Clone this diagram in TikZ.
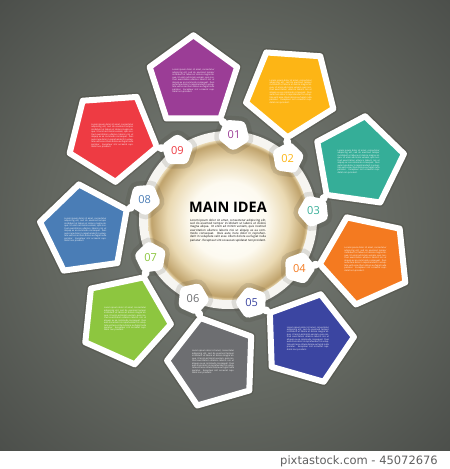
\documentclass[tikz,border=0pt]{standalone}
\usepackage{fontspec}
\setmainfont{Open Sans}
\newfontfamily\footfont{DejaVu Sans}
\usetikzlibrary{calc,positioning,shapes.geometric}

\definecolor{plum}{HTML}{9B3D96}
\definecolor{amber}{HTML}{FDB515}
\definecolor{teal}{HTML}{35AE98}
\definecolor{tangerine}{HTML}{F47A20}
\definecolor{indigo}{HTML}{3B45A1}
\definecolor{slate}{HTML}{6D6E71}
\definecolor{lime}{HTML}{8DC63F}
\definecolor{steel}{HTML}{4A7DB6}
\definecolor{scarlet}{HTML}{EE3B43}
\definecolor{ringwhite}{HTML}{F6F5F1}
\definecolor{bgmid}{HTML}{7A7F79}
\definecolor{bgedge}{HTML}{62665F}
\definecolor{bgrim}{HTML}{4B4E4A}
\definecolor{creme}{HTML}{FDFAF0}
\definecolor{sand}{HTML}{EAD9B2}
\definecolor{khaki}{HTML}{BFA26B}
\definecolor{umber}{HTML}{3A352A}

\pgfdeclareradialshading{bgglow}{\pgfpoint{0bp}{0bp}}%
  {color(0bp)=(bgmid); color(20bp)=(bgedge); color(36bp)=(bgrim); color(50bp)=(bgrim)}
\pgfdeclareradialshading{coreglow}{\pgfpoint{0bp}{0bp}}%
  {color(0bp)=(white); color(12bp)=(creme); color(19bp)=(sand); color(24bp)=(khaki); color(25bp)=(sand); color(50bp)=(sand)}

\newcommand{\filler}{Lorem ipsum dolor sit amet, consectetur adipiscing elit, sed do
  eiusmod tempor incididunt ut labore et dolore magna aliqua. Ut enim ad minim
  veniam, quis nostrud exercitation ullamco laboris nisi ut aliquip ex ea commodo
  consequat. Duis aute irure dolor in reprehenderit in voluptate velit esse cillum
  dolore eu fugiat nulla pariatur. Excepteur sint occaecat cupidatat non proident.}

\begin{document}
\begin{tikzpicture}[
    x=1pt, y=1pt,
    halo/.style={preaction={draw=umber, draw opacity=#1, line width=9}},
    halo/.default=.22,
    petal/.style={regular polygon, regular polygon sides=5, minimum size=92,
      inner sep=0pt, draw=white, line width=6, line join=round, halo},
    badge/.style={regular polygon, regular polygon sides=5, minimum size=34,
      inner sep=0pt, fill=white, rounded corners=4, halo=.13,
      font=\fontsize{11}{11}\selectfont},
    bridge/.style={draw=white, line width=7.5, line cap=round},
    blurb/.style={text=white, align=justify, text width=42, inner sep=0pt,
      font=\fontsize{2.2}{2.45}\selectfont}
  ]

  \useasboundingbox (0,0) rectangle (450,469);
  \fill[shading=bgglow] (0,18) rectangle (450,469);
  \fill[white] (0,0) rectangle (450,18);

  % the main idea in the middle
  \coordinate (centre) at (228,249);
  \node (ring) [circle, minimum size=178, fill=ringwhite,
        preaction={draw=umber, draw opacity=.15, line width=5}] at (centre) {};
  \node (core) [circle, minimum size=160, shading=coreglow] at (centre) {};
  \node (title) at ($(centre)+(0,13)$)
        {\fontsize{14.5}{14.5}\selectfont\bfseries MAIN IDEA};
  \node (body) [below=3pt of title, align=justify, text width=76, inner sep=0pt,
        font=\fontsize{2.9}{3.35}\selectfont] {\filler};

  % pentagons round the circle
  \node (p1) [petal, fill=plum,      shape border rotate=0]    at ($(centre)+(104:143)$) {};
  \node (p2) [petal, fill=amber,     shape border rotate=-40]  at ($(centre)+(64:143)$)  {};
  \node (p3) [petal, fill=teal,      shape border rotate=-80]  at ($(centre)+(24:143)$)  {};
  \node (p4) [petal, fill=tangerine, shape border rotate=-120] at ($(centre)+(-16:143)$) {};
  \node (p5) [petal, fill=indigo,    shape border rotate=-160] at ($(centre)+(-56:143)$) {};
  \node (p6) [petal, fill=slate,     shape border rotate=160]  at ($(centre)+(-96:143)$) {};
  \node (p7) [petal, fill=lime,      shape border rotate=120]  at ($(centre)+(-136:143)$) {};
  \node (p8) [petal, fill=steel,     shape border rotate=80]   at ($(centre)+(-176:143)$) {};
  \node (p9) [petal, fill=scarlet,   shape border rotate=40]   at ($(centre)+(144:143)$) {};

  % small print in each pentagon
  \node (t1) [blurb] at (p1) {\filler};
  \node (t2) [blurb] at (p2) {\filler};
  \node (t3) [blurb] at (p3) {\filler};
  \node (t4) [blurb] at (p4) {\filler};
  \node (t5) [blurb] at (p5) {\filler};
  \node (t6) [blurb] at (p6) {\filler};
  \node (t7) [blurb] at (p7) {\filler};
  \node (t8) [blurb] at (p8) {\filler};
  \node (t9) [blurb] at (p9) {\filler};

  % numbered badges on the ring
  \node (b1) [badge, text=plum,      shape border rotate=176]  at ($(centre)+(86:86)$)   {01};
  \node (b2) [badge, text=amber,     shape border rotate=136]  at ($(centre)+(46:86)$)   {02};
  \node (b3) [badge, text=teal,      shape border rotate=96]   at ($(centre)+(6:86)$)    {03};
  \node (b4) [badge, text=tangerine, shape border rotate=56]   at ($(centre)+(-34:86)$)  {04};
  \node (b5) [badge, text=indigo,    shape border rotate=16]   at ($(centre)+(-74:86)$)  {05};
  \node (b6) [badge, text=slate,     shape border rotate=-24]  at ($(centre)+(-114:86)$) {06};
  \node (b7) [badge, text=lime,      shape border rotate=-64]  at ($(centre)+(-154:86)$) {07};
  \node (b8) [badge, text=steel,     shape border rotate=-104] at ($(centre)+(166:86)$)  {08};
  \node (b9) [badge, text=scarlet,   shape border rotate=-144] at ($(centre)+(126:86)$)  {09};

  % white stems from pentagon tips to badges
  \draw[bridge] (p1.corner 4) -- (b1);
  \draw[bridge] (p2.corner 4) -- (b2);
  \draw[bridge] (p3.corner 4) -- (b3);
  \draw[bridge] (p4.corner 4) -- (b4);
  \draw[bridge] (p5.corner 4) -- (b5);
  \draw[bridge] (p6.corner 4) -- (b6);
  \draw[bridge] (p7.corner 4) -- (b7);
  \draw[bridge] (p8.corner 4) -- (b8);
  \draw[bridge] (p9.corner 4) -- (b9);

  % credit line
  \node (credit) [anchor=east, text=black!62, inner sep=0pt,
        font=\footfont\fontsize{11.5}{11.5}\selectfont] at (438,8) {pixtastock.com - 45072676};

\end{tikzpicture}
\end{document}
